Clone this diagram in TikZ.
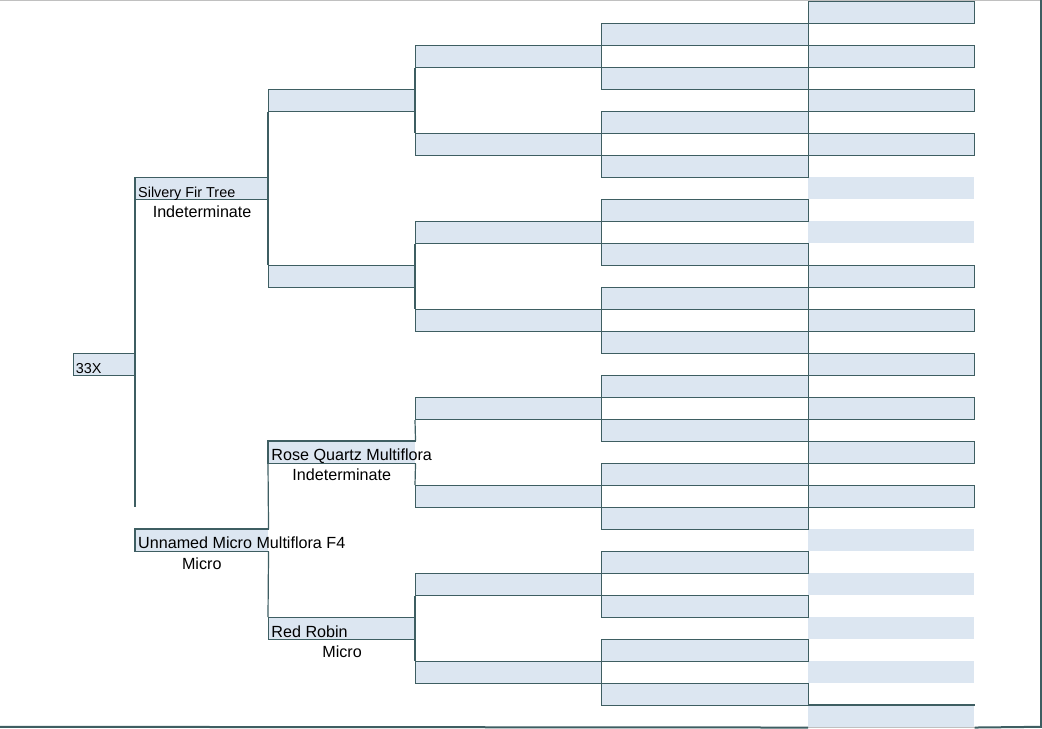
\documentclass[tikz,border=0pt]{standalone}
\usepackage{fontspec}
\setmainfont{Liberation Sans}
\usepackage{xcolor}
\usetikzlibrary{positioning}
\definecolor{gridslate}{RGB}{62, 94, 98}
\definecolor{cellblue}{RGB}{220, 230, 241}
\definecolor{framegray}{RGB}{192, 192, 192}

\begin{document}
\begin{tikzpicture}[x=0.75pt, y=-0.75pt,
    pcell/.style={draw=gridslate, fill=cellblue, line width=0.9pt, inner sep=0pt, minimum height=16.5pt, anchor=north west},
    opencell/.style={fill=cellblue, inner sep=0pt, minimum height=16.5pt, anchor=north west},
    tint/.style={fill=cellblue, inner sep=0pt, minimum height=16.5pt, minimum width=124.5pt, anchor=north west},
    link/.style={draw=gridslate, line width=0.9pt},
    namefont/.style={font=\fontsize{12.1}{14}\selectfont, inner sep=0pt},
    tagfont/.style={font=\fontsize{10.8}{13}\selectfont, inner sep=0pt}]
    \useasboundingbox (0,0) rectangle (1042,728);

    % Frame
    \draw[framegray] (0,0.5) -- (1042,0.5);

    % Column F, empty shaded rows
    \foreach \r in {8,10,24,26,28,30,32}
        \node[tint] (f\r) at (808,{1+22*\r}) {};
    % Column F, boxed rows
    \foreach \r in {0,2,4,6,12,14,16,18,20,22}
        \node[pcell, minimum width=124.5pt] (f\r) at (808,{1+22*\r}) {};
    \draw[link] (f32.north west) -- (f32.north east);
    \draw[framegray] (f32.south west) -- (f32.south east);

    % Column E
    \foreach \r in {1,3,...,31}
        \node[pcell, minimum width=155.25pt] (e\r) at (601,{1+22*\r}) {};

    % Column D
    \foreach \r in {2,6,...,30}
        \node[pcell, minimum width=139.5pt] (d\r) at (415,{1+22*\r}) {};

    % Column C (the Rose Quartz cell has its right side hidden by its name)
    \foreach \r in {4,12,28}
        \node[pcell, minimum width=110.25pt] (c\r) at (268,{1+22*\r}) {};
    \node[opencell, minimum width=110.25pt] (c20) at (268,441) {};
    \draw[link] (c20.north east) -- (c20.north west) -- (c20.south west) -- (c20.south east);

    % Column B and root
    \node[pcell, minimum width=99.75pt] (b8) at (135,177) {};
    \node[opencell, minimum width=99.75pt] (b24) at (135,529) {};
    \draw[link] (b24.north east) -- (b24.north west) -- (b24.south west) -- (b24.south east);
    \node[pcell, minimum width=46.5pt] (a16) at (73,353) {};

    % Brackets
    \foreach \r in {4,12,28} {
        \pgfmathtruncatemacro\up{\r-2}
        \pgfmathtruncatemacro\dn{\r+2}
        \draw[link] (d\up.south west) -- (d\dn.north west);
    }
    \draw[link] (d18.south west) -- (c20.north east);
    \draw[link] (c20.south east) -- (d22.north west);
    \draw[link] (c4.south west) -- (c12.north west);
    \draw[link] (c20.south west) -- (b24.north east);
    \draw[link] (b24.south east) -- (c28.north west);
    \coordinate (rootend) at (135,507);
    \draw[link] (b8.north west) -- (rootend);

    % Names
    \node[tagfont, above right=2.4pt and 2pt of a16.south west, anchor=base west] (t33x) {33X};
    \node[tagfont, above right=2.2pt and 2.2pt of b8.south west, anchor=base west] (tfir) {Silvery Fir Tree};
    \node[namefont, below=12.9pt of b8.south, anchor=base] (tfirtype) {Indeterminate};
    \node[namefont, above right=2.1pt and 2.2pt of b24.south west, anchor=base west] (tmicro) {Unnamed Micro Multiflora F4};
    \node[namefont, below=13.3pt of b24.south, anchor=base] (tmicrotype) {Micro};
    \node[namefont, above right=2.1pt and 2.4pt of c20.south west, anchor=base west] (trose) {Rose Quartz Multiflora};
    \node[namefont, below=12.9pt of c20.south, anchor=base] (trosetype) {Indeterminate};
    \node[namefont, above right=2.1pt and 2.4pt of c28.south west, anchor=base west] (trobin) {Red Robin};
    \node[namefont, below=12.9pt of c28.south, anchor=base] (trobintype) {Micro};

    % Outer border
    \draw[gridslate, line width=1.5pt] (0,726.8) -- (f32.south west);
    \draw[gridslate, line width=1.5pt] (f32.south east) -- (1041,726.8) -- (1041,0);
\end{tikzpicture}
\end{document}
